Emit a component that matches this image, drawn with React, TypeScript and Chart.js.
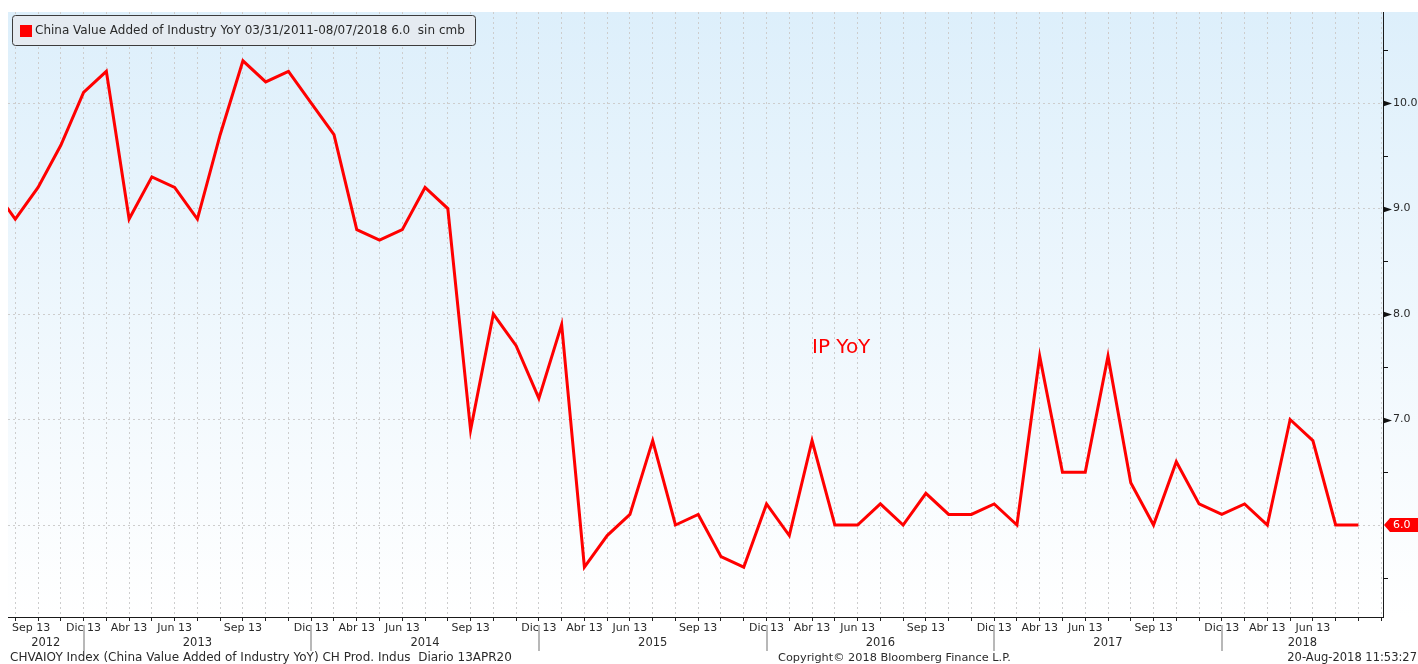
import React, { useEffect, useRef } from 'react';
import { Chart, registerables } from 'chart.js';

Chart.register(...registerables);

// China Value Added of Industry YoY (%), one value per release; first value lies just left of the visible window
const ipYoY = [
  9.2, 8.9, 9.2, 9.6, 10.1, 10.3, 8.9, 9.3, 9.2, 8.9,
  9.7, 10.4, 10.2, 10.3, 10.0, 9.7, 8.8, 8.7, 8.8, 9.2,
  9.0, 6.9, 8.0, 7.7, 7.2, 7.9, 5.6, 5.9, 6.1, 6.8,
  6.0, 6.1, 5.7, 5.6, 6.2, 5.9, 6.8, 6.0, 6.0, 6.2,
  6.0, 6.3, 6.1, 6.1, 6.2, 6.0, 7.6, 6.5, 6.5, 7.6,
  6.4, 6.0, 6.6, 6.2, 6.1, 6.2, 6.0, 7.0, 6.8, 6.0,
  6.0,
];
const firstIndex = -1;

const xTickIdx = [0, 3, 5, 7, 10, 13, 15, 17, 20, 23, 25, 27, 30, 33, 35, 37, 40, 43, 45, 47, 50, 53, 55, 57];
const xTickText = [
  'Sep 13', 'Dic 13', 'Abr 13', 'Jun 13',
  'Sep 13', 'Dic 13', 'Abr 13', 'Jun 13',
  'Sep 13', 'Dic 13', 'Abr 13', 'Jun 13',
  'Sep 13', 'Dic 13', 'Abr 13', 'Jun 13',
  'Sep 13', 'Dic 13', 'Abr 13', 'Jun 13',
  'Sep 13', 'Dic 13', 'Abr 13', 'Jun 13',
];
const yearLabels = ['2012', '2013', '2014', '2015', '2016', '2017', '2018'];
const yearBreaks = [3, 13, 23, 33, 43, 53];

const yTickLabels = [7, 8, 9, 10];
const lastValue = 6.0;
const lastValueText = '6.0';

const legendText = 'China Value Added of Industry YoY 03/31/2011-08/07/2018 6.0  sin cmb';
const seriesNote = 'IP YoY';
const footerLeft = 'CHVAIOY Index (China Value Added of Industry YoY) CH Prod. Indus  Diario 13APR20';
const footerMid = 'Copyright\u00A9 2018 Bloomberg Finance L.P.';
const footerRight = '20-Aug-2018 11:53:27';

const X_MIN = -0.32;
const X_MAX = 60.08;
const Y_MIN = 5.128;
const Y_MAX = 10.863;

const FONT_FAMILY = '"DejaVu Sans", Verdana, sans-serif';
const TEXT = '#2a2a2a';
const RED = '#ff0000';
const GRID = '#cdcdcd';

const decor = {
  id: 'decor',
  beforeDraw(chart: any) {
    const { ctx, width, height, chartArea: ca } = chart;
    ctx.save();
    ctx.fillStyle = '#ffffff';
    ctx.fillRect(0, 0, width, height);
    const g = ctx.createLinearGradient(0, ca.top, 0, ca.bottom);
    g.addColorStop(0, '#ddeffb');
    g.addColorStop(1, '#ffffff');
    ctx.fillStyle = g;
    ctx.fillRect(ca.left, ca.top, width - ca.left, ca.bottom - ca.top);
    ctx.restore();
  },
  afterDraw(chart: any) {
    const { ctx, width, chartArea: ca } = chart;
    const xs = chart.scales.x;
    const ys = chart.scales.y;
    ctx.save();

    // right axis markers
    ctx.fillStyle = '#111';
    ctx.strokeStyle = '#111';
    ctx.lineWidth = 1;
    for (let v = 5.5; v <= Y_MAX; v += 0.5) {
      const y = Math.round(ys.getPixelForValue(v)) + 0.5;
      const isMajor = Math.abs(v - Math.round(v)) < 1e-6;
      if (isMajor) {
        if (Math.abs(v - lastValue) < 1e-6) continue;
        ctx.beginPath();
        ctx.moveTo(ca.right, y - 3);
        ctx.lineTo(ca.right + 9, y);
        ctx.lineTo(ca.right, y + 3);
        ctx.closePath();
        ctx.fill();
      } else {
        ctx.beginPath();
        ctx.moveTo(ca.right, y);
        ctx.lineTo(ca.right + 5, y);
        ctx.stroke();
      }
    }

    // last value tag
    const y6 = ys.getPixelForValue(lastValue);
    ctx.fillStyle = RED;
    ctx.beginPath();
    ctx.moveTo(ca.right + 1, y6);
    ctx.lineTo(ca.right + 7, y6 - 7);
    ctx.lineTo(width, y6 - 7);
    ctx.lineTo(width, y6 + 7);
    ctx.lineTo(ca.right + 7, y6 + 7);
    ctx.closePath();
    ctx.fill();
    ctx.fillStyle = '#ffffff';
    ctx.font = `11px ${FONT_FAMILY}`;
    ctx.textAlign = 'left';
    ctx.textBaseline = 'middle';
    ctx.fillText(lastValueText, ca.right + 10, y6 + 0.5);

    // legend box
    ctx.beginPath();
    ctx.roundRect(12.5, 15.5, 463, 30, 3);
    ctx.fillStyle = '#e5ebf1';
    ctx.fill();
    ctx.strokeStyle = '#3c3c3c';
    ctx.lineWidth = 1;
    ctx.stroke();
    ctx.fillStyle = RED;
    ctx.fillRect(20, 25, 12, 12);
    ctx.fillStyle = TEXT;
    ctx.font = `12px ${FONT_FAMILY}`;
    ctx.textBaseline = 'middle';
    ctx.fillText(legendText, 35, 31);

    // series annotation
    ctx.fillStyle = RED;
    ctx.font = `20px ${FONT_FAMILY}`;
    ctx.fillText(seriesNote, 812, 348);

    // x tick labels
    ctx.font = `11px ${FONT_FAMILY}`;
    ctx.fillStyle = TEXT;
    xTickIdx.forEach((idx, i) => {
      const x = xs.getPixelForValue(idx);
      const w = ctx.measureText(xTickText[i]).width;
      const left = Math.max(x - w / 2, ca.left + 4);
      ctx.fillText(xTickText[i], left, 628);
    });

    // year separators and labels
    const bounds = [ca.left, ...yearBreaks.map((b) => xs.getPixelForValue(b)), ca.right];
    ctx.strokeStyle = '#a0a0a0';
    ctx.lineWidth = 1.5;
    yearBreaks.forEach((b) => {
      const x = Math.round(xs.getPixelForValue(b));
      ctx.beginPath();
      ctx.moveTo(x, 625);
      ctx.lineTo(x, 651);
      ctx.stroke();
    });
    ctx.textAlign = 'center';
    ctx.font = `11.5px ${FONT_FAMILY}`;
    yearLabels.forEach((lab, i) => {
      const cx = (bounds[i] + bounds[i + 1]) / 2;
      ctx.fillText(lab, cx, 643);
    });

    // footer
    ctx.textAlign = 'left';
    ctx.font = `12px ${FONT_FAMILY}`;
    ctx.fillText(footerLeft, 10, 658);
    ctx.font = `11.3px ${FONT_FAMILY}`;
    ctx.fillText(footerMid, 778, 658);
    ctx.textAlign = 'right';
    ctx.font = `11.5px ${FONT_FAMILY}`;
    ctx.fillText(footerRight, 1417, 658);

    ctx.restore();
  },
};

export default function App() {
  const canvasRef = useRef<HTMLCanvasElement | null>(null);

  useEffect(() => {
    const canvas = canvasRef.current;
    if (!canvas) return;
    const points = ipYoY.map((v, i) => ({ x: firstIndex + i, y: v }));
    const chart = new Chart(canvas, {
      type: 'line',
      data: {
        datasets: [
          {
            label: legendText,
            data: points,
            borderColor: RED,
            backgroundColor: RED,
            borderWidth: 3,
            pointRadius: 0,
            tension: 0,
            fill: false,
            clip: 0,
          } as any,
        ],
      },
      options: {
        animation: false,
        responsive: false,
        devicePixelRatio: 1,
        layout: { padding: { left: 8, top: 12, right: 0, bottom: 0 } },
        plugins: {
          legend: { display: false },
          tooltip: { enabled: false },
          title: { display: false },
        },
        scales: {
          x: {
            type: 'linear',
            position: 'bottom',
            min: X_MIN,
            max: X_MAX,
            ticks: { stepSize: 1, includeBounds: false, display: false },
            grid: {
              color: GRID,
              lineWidth: 1,
              drawTicks: true,
              tickLength: 4,
              tickColor: '#222',
              tickWidth: 1,
              tickBorderDash: [],
            },
            border: { display: true, color: '#1a1a1a', width: 1, dash: [2, 3] },
            afterFit: (scale: any) => {
              scale.height = 47;
              scale.paddingLeft = 0;
              scale.paddingRight = 0;
            },
          },
          y: {
            type: 'linear',
            position: 'right',
            min: Y_MIN,
            max: Y_MAX,
            ticks: {
              stepSize: 0.5,
              includeBounds: false,
              autoSkip: false,
              padding: 10,
              color: TEXT,
              font: { family: FONT_FAMILY, size: 11 },
              callback: (value: any) => {
                const v = Number(value);
                return yTickLabels.some((t) => Math.abs(t - v) < 1e-6) ? v.toFixed(1) : '';
              },
            },
            grid: {
              drawTicks: false,
              lineWidth: 1,
              color: (ctx: any) => {
                const v = ctx.tick ? ctx.tick.value : 0.5;
                return Math.abs(v - Math.round(v)) < 1e-6 ? GRID : 'rgba(0,0,0,0)';
              },
            },
            border: { display: true, color: '#1a1a1a', width: 1, dash: [2, 3] },
            afterFit: (scale: any) => {
              scale.width = 35;
              scale.paddingTop = 0;
              scale.paddingBottom = 0;
            },
          },
        },
      },
      plugins: [decor],
    });
    return () => chart.destroy();
  }, []);

  return (
    <div style={{ position: 'absolute', left: 0, top: 0, width: 1418, height: 664 }}>
      <canvas ref={canvasRef} width={1418} height={664} style={{ display: 'block' }} />
    </div>
  );
}
